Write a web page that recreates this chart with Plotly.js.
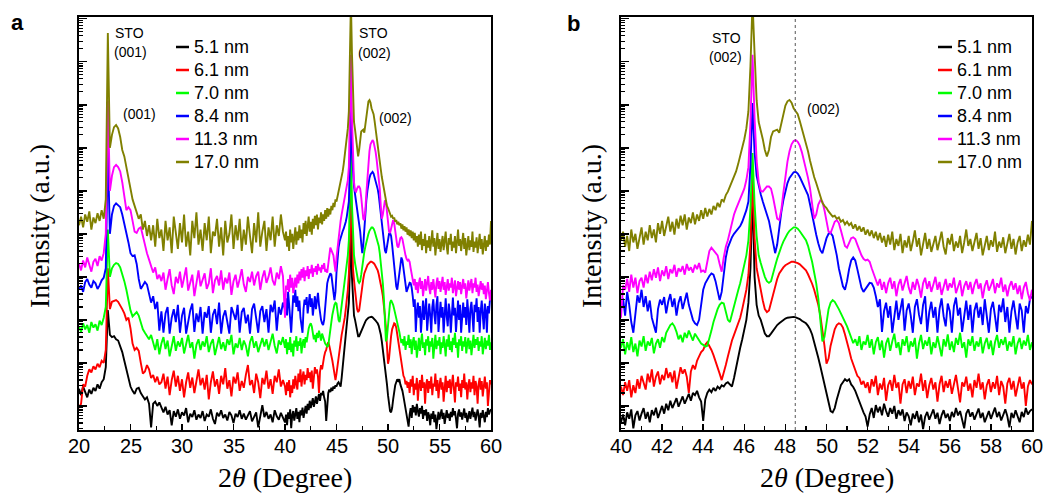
<!DOCTYPE html>
<html>
<head>
<meta charset="utf-8">
<script src="https://cdn.plot.ly/plotly-3.0.1.min.js"></script>
<style>html,body{margin:0;padding:0;background:#fff}#chart{width:1046px;height:494px}</style>
</head>
<body>
<div id="chart"></div>
<script>
// ---- DATA: log10 of XRD intensity (a.u.) ----
// Part A: 2θ = 20.0 ... 39.8, step 0.2 (100 points)
// Part B: 2θ = 40.0 ... 60.0, step 0.1 (201 points)
const seriesNames = ["5.1 nm", "6.1 nm", "7.0 nm", "8.4 nm", "11.3 nm", "17.0 nm"];
const seriesColors = ["#000000", "#ff0000", "#00ff00", "#0000ff", "#ff00ff", "#808000"];

const t51A = [1.40,1.25,1.45,1.30,1.20,1.38,1.28,1.42,1.35,1.50,1.40,1.55,1.62,1.90,3.23,2.65,2.60,2.62,2.55,2.52,
2.40,2.25,2.05,1.85,1.62,1.45,1.35,1.28,1.40,1.42,1.30,1.22,1.15,1.20,1.05,0.50,1.05,1.10,1.00,1.08,
0.95,0.85,0.98,0.80,0.90,0.55,0.88,0.75,0.92,0.70,0.85,0.78,0.95,0.62,0.82,0.74,0.90,0.68,0.80,0.72,
0.88,0.65,0.80,0.75,0.92,0.70,0.58,0.84,0.76,0.90,0.72,0.80,0.66,0.86,0.78,0.60,0.82,0.74,0.90,0.70,
0.82,0.68,0.78,0.88,0.64,0.76,0.85,0.50,0.80,1.02,0.74,0.86,0.70,0.80,0.62,0.90,0.76,0.68,0.84,0.72];
const t51B = [0.62,0.80,0.55,0.85,0.70,0.92,0.48,0.78,0.88,0.66,
0.82,0.95,0.70,0.86,0.62,0.90,0.78,0.96,0.72,0.85,
1.00,0.82,1.05,0.90,1.12,0.95,1.08,1.18,0.98,1.10,
1.22,1.05,1.15,1.28,1.12,1.30,1.25,1.35,1.20,1.10,
0.65,1.15,1.30,1.38,1.32,1.42,1.35,1.45,1.40,1.48,
1.45,1.52,1.55,1.50,1.45,1.65,1.90,2.15,2.35,2.55,
2.75,3.00,3.40,4.20,6.00,4.00,3.35,3.10,3.00,2.85,
2.68,2.62,2.62,2.68,2.75,2.82,2.88,2.92,2.96,3.00,
3.03,3.05,3.06,3.07,3.07,3.06,3.04,3.02,2.98,2.95,
2.92,2.86,2.78,2.66,2.50,2.32,2.12,1.92,1.70,1.50,
1.25,1.05,0.88,0.85,0.95,1.15,1.35,1.48,1.55,1.62,
1.58,1.62,1.50,1.44,1.35,1.22,1.08,0.98,0.85,0.75,
0.52,0.80,0.95,0.72,1.02,0.85,0.98,0.78,1.05,0.88,
0.75,0.95,0.82,1.00,0.70,0.90,0.78,0.92,0.65,0.85,
0.76,0.55,0.82,0.70,0.88,0.62,0.80,0.46,0.75,0.86,
0.68,0.80,0.92,0.70,0.84,0.58,0.78,0.90,0.72,0.82,
0.65,0.86,0.74,0.95,0.78,0.88,0.70,0.48,0.82,0.92,
0.75,0.85,0.68,0.80,0.94,0.72,0.84,0.62,0.78,0.88,
0.70,0.82,0.96,0.74,0.86,0.66,0.80,0.92,0.76,0.50,
0.84,0.72,0.90,0.78,0.62,0.86,0.74,0.95,0.80,0.88,0.92];

const t61A = [0.95,1.05,1.50,1.45,1.70,1.85,1.78,1.92,1.85,1.98,1.90,2.05,2.00,2.30,4.20,3.25,3.42,3.45,3.46,3.42,
3.35,3.25,3.15,3.00,3.05,2.80,2.45,2.30,2.35,2.28,2.00,1.75,1.80,1.95,1.85,1.65,1.72,1.55,1.68,1.50,
1.55,1.75,1.40,1.68,1.25,1.60,1.82,1.45,1.70,1.35,1.62,1.20,1.55,1.78,1.42,1.66,1.30,1.58,1.85,1.48,
1.65,1.38,1.72,1.15,1.55,1.80,1.45,1.62,1.28,1.70,1.50,1.88,1.40,1.60,1.22,1.68,1.52,1.78,1.35,1.58,
1.42,1.72,1.95,1.48,1.60,1.30,1.75,1.55,1.18,1.65,1.50,1.82,1.40,1.62,1.28,1.70,1.55,1.85,1.45,1.60];
const t61B = [1.45,1.25,1.55,1.35,1.60,1.20,1.48,1.30,1.62,1.40,
1.70,1.52,1.38,1.75,1.55,1.85,1.45,1.68,1.80,1.50,
1.72,1.60,1.88,1.65,1.78,1.55,1.82,1.40,1.70,1.90,
1.75,1.85,1.68,1.30,1.80,1.95,1.85,2.05,2.15,2.25,
2.30,2.42,2.48,2.40,2.30,2.18,2.05,1.90,1.75,1.60,
1.75,1.95,2.15,2.35,2.52,2.65,2.78,2.90,3.05,3.25,
3.45,3.70,4.05,4.80,6.35,4.90,4.20,3.92,3.70,3.45,
3.25,3.18,3.22,3.40,3.62,3.80,3.95,4.08,4.16,4.22,
4.27,4.30,4.33,4.35,4.35,4.34,4.32,4.29,4.25,4.20,
4.15,4.06,3.96,3.84,3.70,3.55,3.35,3.10,2.80,2.40,
1.98,2.10,2.40,2.62,2.78,2.88,2.92,2.90,2.82,2.66,
2.50,2.30,2.10,1.95,1.82,1.70,1.65,1.50,1.58,1.42,
1.55,1.30,1.62,1.45,1.70,1.25,1.52,1.38,1.65,1.12,
1.48,1.60,1.35,1.72,1.42,1.55,1.05,1.50,1.62,1.30,
1.58,1.40,1.68,1.25,1.52,1.45,1.75,1.35,1.60,1.18,
1.48,1.65,1.38,1.55,1.10,1.50,1.70,1.32,1.58,1.42,
1.62,1.28,1.50,1.72,1.40,1.08,1.55,1.45,1.68,1.35,
1.52,1.20,1.60,1.42,1.75,1.38,1.55,1.15,1.48,1.62,
1.32,1.55,1.40,1.70,1.25,1.58,1.45,1.05,1.52,1.65,
1.38,1.58,1.22,1.50,1.68,1.40,1.55,1.00,1.45,1.60,1.50];

const t70A = [2.85,2.72,2.92,2.78,2.88,2.70,2.95,2.82,2.90,2.75,2.98,2.88,3.05,3.30,5.10,4.00,4.20,4.28,4.32,4.30,
4.22,4.08,3.90,3.70,3.45,3.22,3.08,3.12,3.18,3.10,2.95,2.78,2.70,2.62,2.55,2.65,2.48,2.30,2.55,2.20,
2.45,2.60,2.32,2.52,2.15,2.40,2.62,2.28,2.50,2.38,2.58,2.22,2.45,2.65,2.35,2.48,2.10,2.42,2.55,2.30,
2.50,2.38,2.62,2.25,2.45,2.55,2.18,2.40,2.60,2.32,2.48,2.28,2.55,2.42,2.65,2.20,2.45,2.35,2.58,2.30,
2.52,2.40,2.15,2.48,2.62,2.35,2.50,2.25,2.45,2.58,2.38,2.55,2.30,2.48,2.68,2.40,2.22,2.52,2.42,2.60];
const t70B = [2.35,2.55,2.20,2.48,2.30,2.60,2.25,2.45,2.15,2.52,
2.38,2.62,2.28,2.50,2.40,2.58,2.22,2.45,2.55,2.35,
2.60,2.48,2.70,2.80,2.88,2.92,2.85,2.72,2.55,2.65,
2.48,2.70,2.58,2.75,2.62,2.52,2.68,2.60,2.50,2.45,
2.42,2.38,2.40,2.55,2.75,2.95,3.12,3.25,3.35,3.40,
3.38,3.20,3.00,2.95,3.15,3.35,3.50,3.68,3.85,4.05,
4.25,4.50,4.85,5.60,6.88,5.70,4.95,4.50,4.32,4.15,
4.00,3.90,3.86,3.90,4.05,4.25,4.42,4.58,4.70,4.82,
4.92,5.00,5.07,5.12,5.15,5.15,5.12,5.06,4.98,4.90,
4.85,4.72,4.55,4.35,4.10,3.85,3.50,3.05,2.50,2.60,
2.95,3.25,3.40,3.46,3.42,3.35,3.25,3.15,3.06,2.95,
2.85,2.72,2.58,2.46,2.55,2.40,2.62,2.30,2.50,2.42,
2.65,2.35,2.55,2.20,2.48,2.60,2.30,2.52,2.12,2.45,
2.58,2.28,2.50,2.68,2.35,2.48,2.18,2.55,2.40,2.62,
2.25,2.50,2.38,2.58,2.10,2.45,2.65,2.32,2.52,2.40,
2.60,2.20,2.48,2.35,2.62,2.42,2.15,2.55,2.38,2.66,
2.30,2.50,2.25,2.58,2.42,2.70,2.35,2.48,2.12,2.55,
2.40,2.62,2.28,2.50,2.38,2.60,2.22,2.45,2.58,2.32,
2.52,2.18,2.48,2.65,2.35,2.55,2.42,2.60,2.28,2.50,
2.38,2.62,2.20,2.45,2.58,2.32,2.52,2.40,2.65,2.30,2.48];

const t84A = [3.70,3.80,3.65,3.88,3.95,3.82,3.75,3.90,3.85,3.72,3.80,3.92,3.98,4.20,6.95,5.00,5.45,5.65,5.71,5.66,
5.62,5.45,5.25,5.05,4.80,4.55,4.48,4.50,4.30,3.95,3.72,3.80,3.88,3.82,3.60,3.40,3.55,3.25,3.42,2.75,
3.20,2.70,3.15,3.30,2.68,3.05,3.25,2.95,3.35,2.70,3.10,3.28,2.68,3.00,3.22,3.38,2.72,3.15,2.95,3.30,
2.68,3.18,3.05,3.32,2.70,3.12,3.25,2.90,3.40,2.68,3.08,3.22,2.98,2.68,3.30,3.15,3.00,3.35,2.70,3.18,
3.28,2.92,3.12,2.68,3.25,3.38,3.05,2.70,3.20,3.32,2.95,3.25,2.70,3.35,3.18,3.45,2.75,3.30,3.12,3.40];
const t84B = [3.25,3.50,3.10,3.65,3.35,2.95,2.70,3.15,3.57,3.40,
3.70,3.30,3.55,3.20,3.45,3.05,2.90,2.70,3.25,3.47,
3.35,3.53,3.15,3.43,3.60,3.30,3.50,3.10,3.40,3.55,
3.25,3.47,3.63,3.35,3.15,3.00,2.92,2.88,3.00,3.35,
3.70,3.85,3.95,4.02,4.08,4.05,3.90,3.65,3.46,3.65,
4.10,4.45,4.68,4.82,4.92,5.00,5.06,5.12,5.18,5.28,
5.40,5.55,5.75,6.60,8.04,6.90,6.35,6.10,5.92,5.75,
5.62,5.45,5.30,5.05,4.78,4.55,4.75,5.15,5.50,5.78,
6.00,6.18,6.30,6.38,6.43,6.44,6.40,6.32,6.22,6.12,
6.04,5.90,5.68,5.42,5.18,4.98,4.78,4.62,4.55,4.72,
4.90,5.00,5.02,4.95,4.75,4.50,4.20,3.95,3.78,3.70,
3.90,4.18,4.38,4.45,4.38,4.18,3.95,3.75,3.65,3.72,
3.80,3.86,3.85,3.75,3.55,3.30,3.48,2.72,3.20,3.40,
3.05,3.32,2.70,3.15,3.45,3.00,3.28,3.50,2.75,3.22,
3.38,3.10,2.70,3.30,3.48,3.12,2.90,3.35,3.55,2.72,
3.18,3.42,3.05,3.30,2.70,3.25,3.50,3.08,2.85,3.38,
3.20,2.70,3.32,3.52,3.10,3.28,2.72,3.15,3.45,3.00,
3.35,2.70,3.22,3.40,3.05,3.30,2.88,3.48,3.15,2.70,
3.25,3.42,3.08,2.72,3.35,3.18,3.50,2.95,3.30,2.70,
3.20,3.45,3.10,2.78,3.38,3.22,2.70,3.32,3.15,3.48,3.55];

const t113A = [4.30,4.15,4.38,4.22,4.45,4.28,4.12,4.35,4.42,4.25,4.48,4.38,4.55,5.00,8.10,6.00,6.35,6.55,6.60,6.55,
6.45,6.20,5.90,5.55,5.62,5.55,5.30,5.05,5.02,5.12,5.15,4.95,4.70,4.55,4.40,4.25,4.10,4.22,3.95,4.05,
3.90,4.10,3.70,3.95,4.18,3.80,3.60,4.00,3.85,4.12,3.75,3.98,4.22,3.68,3.90,4.05,3.55,3.88,4.15,3.78,
3.95,4.08,3.72,3.85,4.20,3.62,3.92,4.02,3.80,4.15,3.70,3.98,3.85,4.10,3.58,3.90,4.05,3.75,3.95,4.18,
3.82,3.65,4.00,3.88,4.12,3.80,4.02,4.12,3.70,3.98,4.15,3.86,4.00,4.22,3.92,3.80,4.10,3.95,4.25,4.02];
const t113B = [3.05,3.80,3.70,3.95,3.65,4.05,3.75,3.98,3.62,3.90,
3.98,3.75,4.05,3.85,4.12,3.92,4.18,3.98,4.22,3.90,
4.15,4.02,4.25,3.95,4.18,4.08,4.28,4.00,4.20,4.12,
4.25,4.05,4.30,4.15,4.22,4.10,4.28,4.18,4.32,4.12,
4.15,4.10,4.35,4.60,4.68,4.62,4.55,4.50,4.30,4.12,
4.45,4.70,4.85,5.05,5.30,5.45,5.58,5.70,5.80,5.92,
6.05,6.25,6.55,7.60,9.16,7.70,6.70,6.20,6.00,5.98,
6.05,6.10,6.10,6.05,5.85,5.55,5.35,5.32,5.55,5.95,
6.35,6.68,6.92,7.08,7.16,7.18,7.14,7.05,6.90,6.72,
6.52,6.30,6.05,5.65,5.35,5.45,5.68,5.78,5.75,5.55,
5.25,5.05,5.02,5.15,5.28,5.32,5.25,5.08,4.88,4.72,
4.68,4.80,4.90,4.92,4.88,4.75,4.60,4.50,4.42,4.38,
4.40,4.35,4.20,4.05,3.92,3.80,3.95,3.70,3.88,3.62,
3.85,3.98,3.72,3.90,3.55,3.82,3.95,3.68,3.85,4.02,
3.75,3.60,3.88,3.70,3.95,3.78,3.52,3.85,3.98,3.72,
3.90,3.65,3.82,4.00,3.70,3.88,3.58,3.80,3.95,3.68,
3.85,3.75,3.98,3.62,3.80,3.92,3.55,3.78,3.90,3.70,
3.88,3.60,3.82,3.95,3.72,3.85,3.50,3.78,3.92,3.68,
3.80,3.95,3.62,3.85,3.75,3.98,3.65,3.82,3.55,3.78,
3.90,3.70,3.85,3.60,3.80,3.48,3.75,3.88,3.62,3.45,3.70];

const t170A = [5.20,5.40,5.15,5.45,5.28,5.52,5.10,5.38,5.25,5.48,5.30,5.55,5.35,5.80,9.67,7.00,7.30,7.48,7.53,7.45,
7.25,6.95,6.80,6.55,6.25,6.02,5.80,5.65,5.50,5.35,5.45,5.10,5.30,4.95,5.20,4.85,5.20,4.70,5.35,4.90,
5.10,4.60,5.30,4.85,5.15,4.55,5.40,4.95,4.65,5.25,4.80,5.45,4.70,5.05,4.50,5.30,4.90,5.50,4.75,5.10,
4.60,5.25,4.85,5.40,4.55,5.05,4.95,5.35,4.70,5.15,4.50,5.30,4.80,5.00,5.45,4.65,5.20,4.85,5.35,4.60,
5.10,4.75,5.40,4.95,4.55,5.25,4.80,5.50,4.70,5.05,5.30,4.60,5.15,4.85,5.40,4.70,5.20,4.95,5.45,5.05];
const t170B = [4.85,5.05,4.70,4.95,4.60,5.10,4.80,5.00,4.65,4.90,
5.15,4.75,5.05,4.85,5.20,4.90,5.10,4.80,5.25,5.00,
5.30,4.95,5.18,5.40,5.05,5.28,4.98,5.35,5.12,5.42,
5.20,5.45,5.10,5.38,5.25,5.50,5.22,5.45,5.30,5.55,
5.35,5.60,5.40,5.58,5.45,5.65,5.55,5.72,5.62,5.80,
5.75,5.90,5.98,6.10,6.22,6.32,6.45,6.62,6.80,6.98,
7.20,7.45,7.85,8.90,10.40,9.20,8.10,7.60,7.42,7.20,
6.95,6.80,6.95,7.25,7.38,7.40,7.42,7.35,7.55,7.80,
7.98,8.08,8.11,8.05,7.92,7.85,7.78,7.62,7.45,7.30,
7.10,6.92,6.70,6.50,6.32,6.18,6.02,5.85,5.72,5.65,
5.60,5.52,5.45,5.40,5.42,5.35,5.38,5.28,5.32,5.22,
5.28,5.20,5.25,5.12,5.22,5.08,5.18,5.05,5.15,4.98,
5.10,4.95,5.08,4.90,5.05,4.85,5.02,4.80,4.95,4.70,
4.98,4.75,5.05,4.62,4.88,4.72,5.00,4.55,4.85,4.68,
4.95,4.60,4.82,5.08,4.70,4.90,4.50,4.78,5.02,4.65,
4.88,4.58,4.80,4.95,4.62,4.85,5.05,4.70,4.52,4.90,
4.75,5.00,4.60,4.82,4.68,4.95,4.55,4.80,5.10,4.72,
4.88,4.60,4.78,5.02,4.65,4.90,4.50,4.75,4.95,4.62,
4.85,4.70,5.05,4.58,4.82,4.68,4.92,4.55,4.78,5.00,
4.65,4.88,4.52,4.80,4.95,4.60,4.85,4.70,4.98,4.75,5.30];

const seriesA = [t51A, t61A, t70A, t84A, t113A, t170A];
const seriesB = [t51B, t61B, t70B, t84B, t113B, t170B];

// 2θ sampling grid
const twoThetaA = []; for (let i = 0; i < 100; i++) twoThetaA.push(Math.round((20 + 0.2 * i) * 10) / 10);
const twoThetaB = []; for (let i = 0; i <= 200; i++) twoThetaB.push(Math.round((40 + 0.1 * i) * 10) / 10);
const twoTheta = twoThetaA.concat(twoThetaB);

const xTicksA = [20, 25, 30, 35, 40, 45, 50, 55, 60];
const xTicksB = [40, 42, 44, 46, 48, 50, 52, 54, 56, 58, 60];
const filmPeak002 = 48.48;

// ---- layout helpers ----
const W = 1046, H = 494, ML = 79, MR = 14, MT = 17, MB = 64;
const PW = W - ML - MR, PH = H - MT - MB;
const px = v => (v - ML) / PW;
const py = v => (H - MB - v) / PH;

const traces = [];
seriesNames.forEach((nm, k) => {
  const y = seriesA[k].concat(seriesB[k]);
  traces.push({x: twoTheta, y: y, xaxis: 'x', yaxis: 'y', type: 'scatter', mode: 'lines',
    line: {color: seriesColors[k], width: 1.9}, name: nm, showlegend: false, hoverinfo: 'skip'});
  traces.push({x: twoThetaB, y: seriesB[k], xaxis: 'x2', yaxis: 'y2', type: 'scatter', mode: 'lines',
    line: {color: seriesColors[k], width: 1.9}, name: nm, showlegend: false, hoverinfo: 'skip'});
});

const majorY = [1,2,3,4,5,6,7,8,9,10];
const minorY = [];
for (let n = 0; n <= 9; n++) for (let m = 2; m <= 9; m++) { const v = n + Math.log10(m); if (v > 0.44 && v < 10.04) minorY.push(v); }

const sans = 'Liberation Sans, Arial, sans-serif';
const serif = 'Liberation Serif, Times New Roman, serif';

function xax(domain, ticks, minorD, anchor) {
  return {domain: domain, range: [ticks[0], ticks[ticks.length-1]], anchor: anchor,
    tickmode: 'array', tickvals: ticks, showticklabels: false, ticks: 'inside', ticklen: 6, tickwidth: 1.5, tickcolor: '#000',
    minor: {dtick: minorD, tick0: ticks[0], ticks: 'inside', ticklen: 4, tickwidth: 1.2, tickcolor: '#000'},
    showline: true, linecolor: '#000', linewidth: 2, mirror: true, showgrid: false, zeroline: false, fixedrange: true};
}
function yax(anchor) {
  return {domain: [0, 1], range: [0.44, 10.04], anchor: anchor,
    tickmode: 'array', tickvals: majorY, showticklabels: false, ticks: 'inside', ticklen: 8, tickwidth: 1.5, tickcolor: '#000',
    minor: {tickmode: 'array', tickvals: minorY, ticks: 'inside', ticklen: 4, tickwidth: 1.2, tickcolor: '#000'},
    showline: true, linecolor: '#000', linewidth: 2, mirror: true, showgrid: false, zeroline: false, fixedrange: true};
}

const domA = [0, px(491)], domB = [px(621), 1];

const annotations = [];
const shapes = [];
function txt(x, y, t, size, opts) {
  annotations.push(Object.assign({xref: 'paper', yref: 'paper', x: px(x), y: py(y), text: t, showarrow: false,
    xanchor: 'left', yanchor: 'middle', font: {family: sans, size: size, color: '#000'}}, opts || {}));
}
// x tick labels placed on the axes' own data coordinates
[['x', xTicksA], ['x2', xTicksB]].forEach(([ax, ticks]) => {
  ticks.forEach(t => annotations.push({xref: ax, yref: 'paper', x: t, y: py(446), text: String(t), showarrow: false,
    xanchor: 'center', yanchor: 'middle', font: {family: sans, size: 20, color: '#000'}}));
});
// legends
[[176, 189, 192], [938, 952, 955]].forEach(pos => {
  seriesNames.forEach((nm, k) => {
    const yy = 47 + 23 * k;
    shapes.push({type: 'line', xref: 'paper', yref: 'paper', x0: px(pos[0]), x1: px(pos[1]), y0: py(yy), y1: py(yy),
      line: {color: seriesColors[k], width: 2.5}});
    txt(pos[2], yy, nm, 18);
  });
});
// peak labels
txt(113, 33, 'STO', 14); txt(112, 52, '(001)', 14);
txt(121, 114, '(001)', 14);
txt(357, 33, 'STO', 14); txt(356, 53, '(002)', 14);
txt(377, 118, '(002)', 14);
txt(710, 38, 'STO', 14); txt(707, 57, '(002)', 14);
txt(805, 109, '(002)', 14);
// panel letters
txt(9, 22, '<b>a</b>', 22); txt(565, 24, '<b>b</b>', 22);
// axis titles
[[285, 40], [826.5, 592]].forEach(p => {
  annotations.push({xref: 'paper', yref: 'paper', x: px(p[0]), y: py(477), text: '2<i>θ</i> (Degree)', showarrow: false,
    xanchor: 'center', yanchor: 'middle', font: {family: serif, size: 28, color: '#000'}});
  annotations.push({xref: 'paper', yref: 'paper', x: px(p[1]), y: py(226), text: 'Intensity (a.u.)', showarrow: false,
    textangle: -90, xanchor: 'center', yanchor: 'middle', font: {family: serif, size: 28, color: '#000'}});
});
// dotted reference line at film (002) peak
shapes.push({type: 'line', xref: 'x2', yref: 'y2 domain', x0: filmPeak002, x1: filmPeak002, y0: 0, y1: 1,
  line: {color: '#555', width: 1, dash: 'dot'}});

const layout = {
  width: W, height: H, margin: {l: ML, r: MR, t: MT, b: MB}, paper_bgcolor: '#fff', plot_bgcolor: '#fff',
  showlegend: false,
  xaxis: xax(domA, xTicksA, 2.5, 'y'), yaxis: yax('x'),
  xaxis2: xax(domB, xTicksB, 1, 'y2'), yaxis2: yax('x2'),
  annotations: annotations, shapes: shapes
};

Plotly.newPlot('chart', traces, layout, {staticPlot: true, displayModeBar: false});
</script>
</body>
</html>
